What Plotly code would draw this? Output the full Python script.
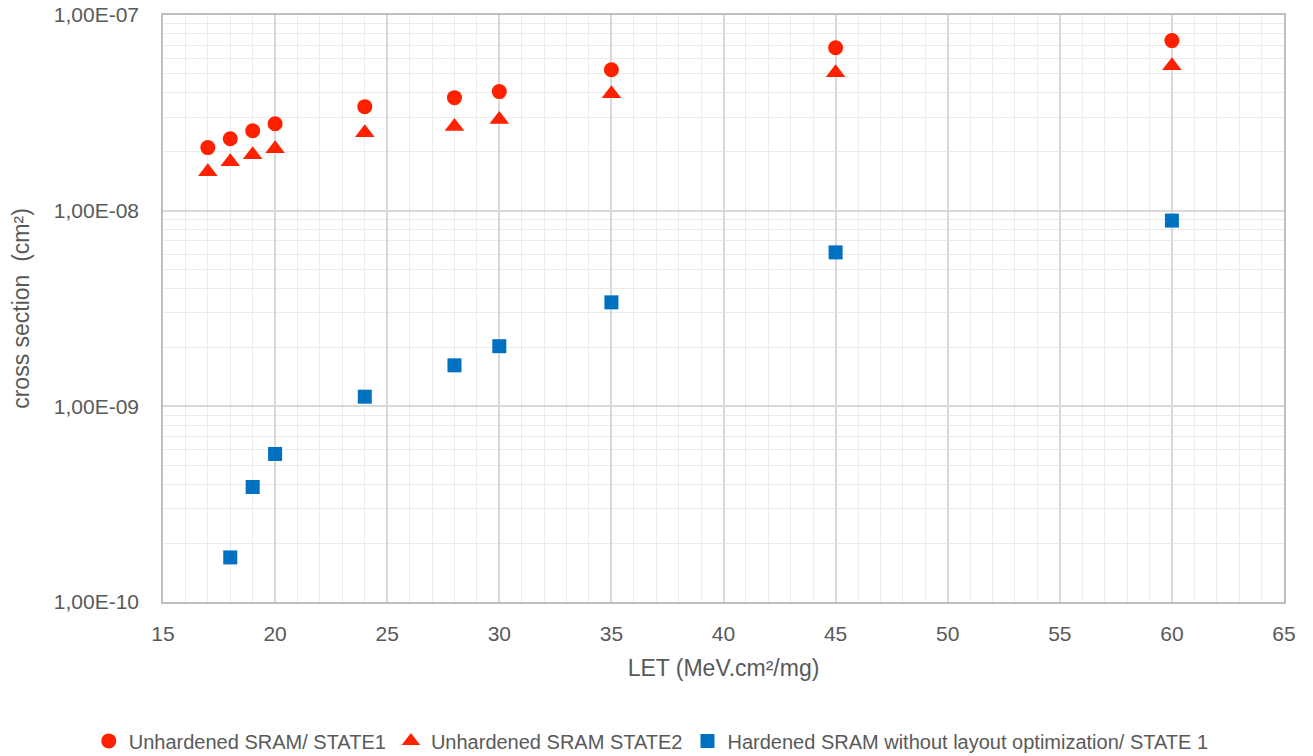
import plotly.graph_objects as go

let = [17, 18, 19, 20, 24, 28, 30, 35, 45, 60]
state1 = [2.10e-8, 2.33e-8, 2.56e-8, 2.78e-8, 3.40e-8, 3.78e-8, 4.06e-8, 5.25e-8, 6.80e-8, 7.40e-8]
state2 = [1.58e-8, 1.78e-8, 1.93e-8, 2.07e-8, 2.50e-8, 2.69e-8, 2.92e-8, 3.96e-8, 5.07e-8, 5.51e-8]
let_hard = [18, 19, 20, 24, 28, 30, 35, 45, 60]
hardened = [1.69e-10, 3.87e-10, 5.71e-10, 1.12e-9, 1.62e-9, 2.03e-9, 3.40e-9, 6.12e-9, 8.9e-9]

y_tickvals = [1e-10, 1e-9, 1e-8, 1e-7]
y_ticktext = ["1,00E-10", "1,00E-09", "1,00E-08", "1,00E-07"]
x_tickvals = [15, 20, 25, 30, 35, 40, 45, 50, 55, 60, 65]

names = ["Unhardened SRAM/ STATE1", "Unhardened SRAM STATE2",
         "Hardened SRAM without layout optimization/ STATE 1"]

RED = "#FF2000"
BLUE = "#0070C0"
GREY_TXT = "#595959"
FONT = "Liberation Sans"

fig = go.Figure()
fig.add_trace(go.Scatter(x=let, y=state1, mode="markers", name=names[0],
                         marker=dict(symbol="circle", size=15, color=RED)))
fig.add_trace(go.Scatter(x=let, y=state2, mode="markers", name=names[1],
                         marker=dict(symbol="triangle-up", size=17, color=RED)))
fig.add_trace(go.Scatter(x=let_hard, y=hardened, mode="markers", name=names[2],
                         marker=dict(symbol="square", size=14, color=BLUE)))

fig.update_layout(
    width=1313, height=756,
    margin=dict(l=163, r=29, t=15, b=154, autoexpand=False),
    plot_bgcolor="white", paper_bgcolor="white",
    font=dict(family=FONT, color=GREY_TXT, size=20),
    showlegend=True,
    legend=dict(orientation="h", xref="container", yref="container",
                x=0.496, xanchor="center", y=0.02, yanchor="middle",
                font=dict(size=20, color=GREY_TXT), itemsizing="trace",
                itemwidth=30, tracegroupgap=0),
)
fig.update_xaxes(
    range=[15, 65], tickvals=x_tickvals, ticks="",
    showline=True, linecolor="#BFBFBF", linewidth=1.5, mirror=True,
    showgrid=True, gridcolor="#D9D9D9", gridwidth=1.5,
    minor=dict(dtick=1, showgrid=True, gridcolor="#EBEBEB", gridwidth=1),
    zeroline=False, ticklabelstandoff=12,
    title=dict(text="LET (MeV.cm²/mg)", font=dict(size=23, color=GREY_TXT), standoff=16),
    tickfont=dict(size=21, color=GREY_TXT),
)
fig.update_yaxes(
    type="log", range=[-10, -7], tickvals=y_tickvals, ticktext=y_ticktext, ticks="",
    showline=True, linecolor="#BFBFBF", linewidth=1.5, mirror=True,
    showgrid=True, gridcolor="#D9D9D9", gridwidth=1.5,
    minor=dict(dtick="D1", showgrid=True, gridcolor="#EBEBEB", gridwidth=1),
    zeroline=False, ticklabelstandoff=18,
    title=dict(text="cross section  (cm²)", font=dict(size=23, color=GREY_TXT), standoff=18),
    tickfont=dict(size=21, color=GREY_TXT),
)

fig.write_html("out.html", config={"displayModeBar": False},
               post_script="document.body.style.margin='0';")
